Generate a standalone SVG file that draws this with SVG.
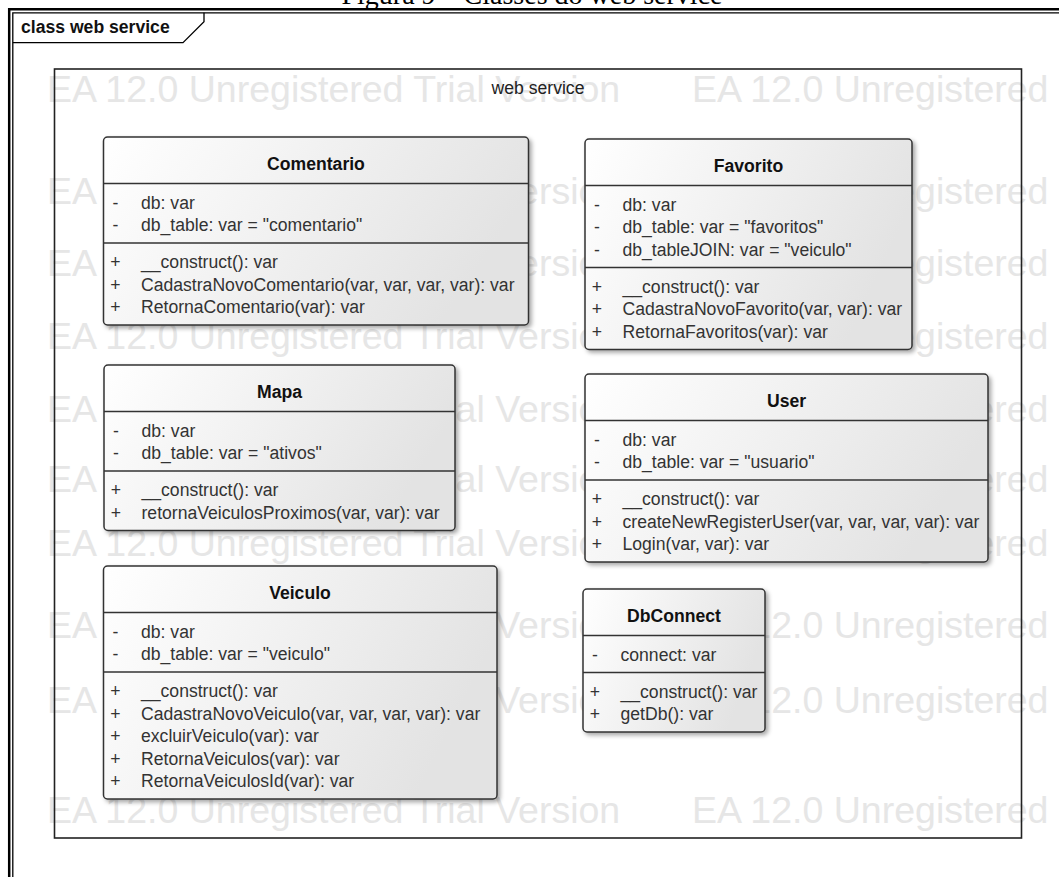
<svg xmlns="http://www.w3.org/2000/svg" width="1059" height="877" viewBox="0 0 1059 877">
<defs>
<linearGradient id="boxfill" x1="0" y1="0" x2="1" y2="0.3">
<stop offset="0" stop-color="#ffffff"/>
<stop offset="1" stop-color="#e3e3e3"/>
</linearGradient>
<filter id="shadow" x="-5%" y="-5%" width="115%" height="115%">
<feDropShadow dx="2.5" dy="2.5" stdDeviation="2" flood-color="#000" flood-opacity="0.35"/>
</filter>
</defs>
<style>
.wm{font-family:"Liberation Sans",Arial,sans-serif;font-size:37.5px;fill:#e6e6e6}
.box{fill:url(#boxfill);stroke:#333;stroke-width:1.5;filter:url(#shadow)}
.div{stroke:#333;stroke-width:1.5}
.ttl{font-family:"Liberation Sans",Arial,sans-serif;font-size:17.6px;font-weight:bold;fill:#111;text-anchor:middle}
.mem{font-family:"Liberation Sans",Arial,sans-serif;font-size:17.6px;fill:#333}
.vis{font-family:"Liberation Sans",Arial,sans-serif;font-size:17.6px;fill:#333;text-anchor:middle}
.frame{fill:none;stroke:#000}
.lbl{font-family:"Liberation Sans",Arial,sans-serif;font-size:17.6px;font-weight:bold;fill:#111}
.pkg{font-family:"Liberation Sans",Arial,sans-serif;font-size:17.6px;fill:#222;text-anchor:middle}
</style>
<rect width="1059" height="877" fill="#fff"/>
<text x="532" y="4" font-family="'Liberation Serif','Times New Roman',serif" font-size="28" text-anchor="middle" fill="#000">Figura 9 – Classes do web service</text>
<g id="watermark">
<text class="wm" x="47" y="101.5">EA 12.0 Unregistered Trial Version</text><text class="wm" x="692" y="101.5">EA 12.0 Unregistered</text>
<text class="wm" x="47" y="203.5">EA 12.0 Unregistered Trial Version</text><text class="wm" x="692" y="203.5">EA 12.0 Unregistered</text>
<text class="wm" x="47" y="275.5">EA 12.0 Unregistered Trial Version</text><text class="wm" x="692" y="275.5">EA 12.0 Unregistered</text>
<text class="wm" x="47" y="348.5">EA 12.0 Unregistered Trial Version</text><text class="wm" x="692" y="348.5">EA 12.0 Unregistered</text>
<text class="wm" x="47" y="421.5">EA 12.0 Unregistered Trial Version</text><text class="wm" x="692" y="421.5">EA 12.0 Unregistered</text>
<text class="wm" x="47" y="491.5">EA 12.0 Unregistered Trial Version</text><text class="wm" x="692" y="491.5">EA 12.0 Unregistered</text>
<text class="wm" x="47" y="556">EA 12.0 Unregistered Trial Version</text><text class="wm" x="692" y="556">EA 12.0 Unregistered</text>
<text class="wm" x="47" y="638">EA 12.0 Unregistered Trial Version</text><text class="wm" x="692" y="638">EA 12.0 Unregistered</text>
<text class="wm" x="47" y="713">EA 12.0 Unregistered Trial Version</text><text class="wm" x="692" y="713">EA 12.0 Unregistered</text>
<text class="wm" x="47" y="823">EA 12.0 Unregistered Trial Version</text><text class="wm" x="692" y="823">EA 12.0 Unregistered</text>
</g>
<g id="frame">
<path class="frame" stroke-width="2.5" d="M9.2 877 V9.2 H1059"/>
<path class="frame" stroke-width="1.3" d="M12.8 877 V12.8 H1059"/>
<path class="frame" stroke-width="1.3" d="M12.8 42.7 H183 L204 21.7 V12.8"/>
<text class="lbl" x="21" y="32.5">class web service</text>
</g>
<g id="package">
<rect x="54.5" y="69" width="967" height="769" fill="none" stroke="#222" stroke-width="1.6"/>
<text class="pkg" x="538" y="94">web service</text>
</g>
<g id="connectors"></g>
<g id="Comentario">
<rect class="box" x="103.5" y="137" width="425" height="188" rx="4"/>
<line class="div" x1="103.5" y1="183.5" x2="528.5" y2="183.5"/>
<line class="div" x1="103.5" y1="243" x2="528.5" y2="243"/>
<text class="ttl" x="316" y="169.5">Comentario</text>
<text class="vis" x="115.5" y="208.9">-</text><text class="mem" x="141" y="208.9">db: var</text>
<text class="vis" x="115.5" y="231.4">-</text><text class="mem" x="141" y="231.4">db_table: var = "comentario"</text>
<text class="vis" x="115.5" y="268.4">+</text><text class="mem" x="141" y="268.4">__construct(): var</text>
<text class="vis" x="115.5" y="290.9">+</text><text class="mem" x="141" y="290.9">CadastraNovoComentario(var, var, var, var): var</text>
<text class="vis" x="115.5" y="313.4">+</text><text class="mem" x="141" y="313.4">RetornaComentario(var): var</text>
</g>
<g id="Favorito">
<rect class="box" x="585" y="139" width="327" height="210.5" rx="4"/>
<line class="div" x1="585" y1="185.5" x2="912" y2="185.5"/>
<line class="div" x1="585" y1="267.5" x2="912" y2="267.5"/>
<text class="ttl" x="748.5" y="171.5">Favorito</text>
<text class="vis" x="597" y="210.9">-</text><text class="mem" x="622.5" y="210.9">db: var</text>
<text class="vis" x="597" y="233.4">-</text><text class="mem" x="622.5" y="233.4">db_table: var = "favoritos"</text>
<text class="vis" x="597" y="255.9">-</text><text class="mem" x="622.5" y="255.9">db_tableJOIN: var = "veiculo"</text>
<text class="vis" x="597" y="292.9">+</text><text class="mem" x="622.5" y="292.9">__construct(): var</text>
<text class="vis" x="597" y="315.4">+</text><text class="mem" x="622.5" y="315.4">CadastraNovoFavorito(var, var): var</text>
<text class="vis" x="597" y="337.9">+</text><text class="mem" x="622.5" y="337.9">RetornaFavoritos(var): var</text>
</g>
<g id="Mapa">
<rect class="box" x="104" y="365" width="351" height="165.5" rx="4"/>
<line class="div" x1="104" y1="411.5" x2="455" y2="411.5"/>
<line class="div" x1="104" y1="471" x2="455" y2="471"/>
<text class="ttl" x="279.5" y="397.5">Mapa</text>
<text class="vis" x="116" y="436.9">-</text><text class="mem" x="141.5" y="436.9">db: var</text>
<text class="vis" x="116" y="459.4">-</text><text class="mem" x="141.5" y="459.4">db_table: var = "ativos"</text>
<text class="vis" x="116" y="496.4">+</text><text class="mem" x="141.5" y="496.4">__construct(): var</text>
<text class="vis" x="116" y="518.9">+</text><text class="mem" x="141.5" y="518.9">retornaVeiculosProximos(var, var): var</text>
</g>
<g id="User">
<rect class="box" x="585" y="374" width="403" height="188" rx="4"/>
<line class="div" x1="585" y1="420.5" x2="988" y2="420.5"/>
<line class="div" x1="585" y1="480" x2="988" y2="480"/>
<text class="ttl" x="786.5" y="406.5">User</text>
<text class="vis" x="597" y="445.9">-</text><text class="mem" x="622.5" y="445.9">db: var</text>
<text class="vis" x="597" y="468.4">-</text><text class="mem" x="622.5" y="468.4">db_table: var = "usuario"</text>
<text class="vis" x="597" y="505.4">+</text><text class="mem" x="622.5" y="505.4">__construct(): var</text>
<text class="vis" x="597" y="527.9">+</text><text class="mem" x="622.5" y="527.9">createNewRegisterUser(var, var, var, var): var</text>
<text class="vis" x="597" y="550.4">+</text><text class="mem" x="622.5" y="550.4">Login(var, var): var</text>
</g>
<g id="Veiculo">
<rect class="box" x="103.5" y="566" width="393.5" height="233" rx="4"/>
<line class="div" x1="103.5" y1="612.5" x2="497" y2="612.5"/>
<line class="div" x1="103.5" y1="672" x2="497" y2="672"/>
<text class="ttl" x="300" y="598.5">Veiculo</text>
<text class="vis" x="115.5" y="637.9">-</text><text class="mem" x="141" y="637.9">db: var</text>
<text class="vis" x="115.5" y="660.4">-</text><text class="mem" x="141" y="660.4">db_table: var = "veiculo"</text>
<text class="vis" x="115.5" y="697.4">+</text><text class="mem" x="141" y="697.4">__construct(): var</text>
<text class="vis" x="115.5" y="719.9">+</text><text class="mem" x="141" y="719.9">CadastraNovoVeiculo(var, var, var, var): var</text>
<text class="vis" x="115.5" y="742.4">+</text><text class="mem" x="141" y="742.4">excluirVeiculo(var): var</text>
<text class="vis" x="115.5" y="764.9">+</text><text class="mem" x="141" y="764.9">RetornaVeiculos(var): var</text>
<text class="vis" x="115.5" y="787.4">+</text><text class="mem" x="141" y="787.4">RetornaVeiculosId(var): var</text>
</g>
<g id="DbConnect">
<rect class="box" x="583" y="589" width="182" height="143" rx="4"/>
<line class="div" x1="583" y1="635.5" x2="765" y2="635.5"/>
<line class="div" x1="583" y1="672.5" x2="765" y2="672.5"/>
<text class="ttl" x="674" y="621.5">DbConnect</text>
<text class="vis" x="595" y="660.9">-</text><text class="mem" x="620.5" y="660.9">connect: var</text>
<text class="vis" x="595" y="697.9">+</text><text class="mem" x="620.5" y="697.9">__construct(): var</text>
<text class="vis" x="595" y="720.4">+</text><text class="mem" x="620.5" y="720.4">getDb(): var</text>
</g>
</svg>
